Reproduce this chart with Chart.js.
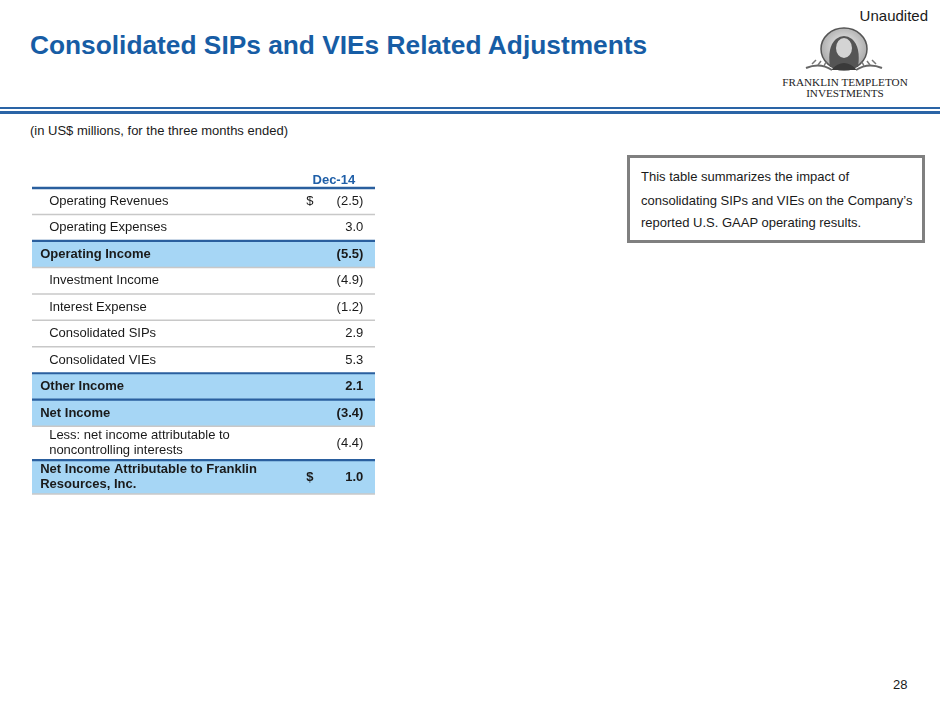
<!DOCTYPE html>
<html>
<head>
<meta charset="utf-8">
<script src="https://cdn.jsdelivr.net/npm/chart.js@4.4.1/dist/chart.umd.min.js"></script>
<style>
  html, body { margin: 0; padding: 0; background: #fff; }
  body { width: 940px; height: 705px; position: relative; overflow: hidden; font-family: "Liberation Sans", Arial, sans-serif; color: #1a1a1a; }
  .abs { position: absolute; }
  #unaudited { right: 12px; top: 7px; font-size: 15px; }
  #title { left: 30px; top: 30px; font-size: 26.3px; font-weight: bold; color: #175DA5; }
  #rule1 { left: 0; top: 107px; width: 940px; height: 1.5px; background: #2A64A6; }
  #rule2 { left: 0; top: 111px; width: 940px; height: 3px; background: #2A64A6; }
  #subtitle { left: 30px; top: 123px; font-size: 13px; }
  #note { left: 627px; top: 155px; width: 292px; height: 82px; border: 3px solid #808080; }
  #note p { margin: 0; position: absolute; left: 11px; font-size: 13px; white-space: nowrap; }
  #page { left: 893px; top: 677px; font-size: 13px; }
  .logoText { left: 770px; width: 150px; text-align: center; font-family: "Liberation Serif", "DejaVu Serif", serif; font-size: 11.2px; line-height: 10px; color: #222; }
  #tableWrap { left: 32px; top: 160px; width: 343px; height: 340px; }
</style>
</head>
<body>
<div id="unaudited" class="abs">Unaudited</div>
<div id="title" class="abs">Consolidated SIPs and VIEs Related Adjustments</div>

<svg class="abs" style="left:796px;top:27px" width="96" height="46" viewBox="0 0 96 46">
  <defs>
    <radialGradient id="bg" cx="50%" cy="45%" r="60%">
      <stop offset="0%" stop-color="#f4f4f4"/>
      <stop offset="100%" stop-color="#a0a0a0"/>
    </radialGradient>
  </defs>
  <ellipse cx="48" cy="22" rx="23" ry="21" fill="url(#bg)" stroke="#555" stroke-width="1.5"/>
  <path d="M34 40 Q31 20 40 12 Q48 6 56 12 Q65 20 62 40 Z" fill="#555"/>
  <ellipse cx="48" cy="21" rx="8" ry="10" fill="#d4d4d4"/>
  <path d="M35 43 Q48 29 61 43 Z" fill="#3a3a3a"/>
  <path d="M10 41 Q24 35 36 43 M86 41 Q72 35 60 43" stroke="#666" stroke-width="2" fill="none"/>
  <path d="M16 37 L20 33 M22 38 L25 34 M28 39 L30 35 M80 37 L76 33 M74 38 L71 34 M68 39 L66 35" stroke="#777" stroke-width="1.5"/>
</svg>
<div class="abs logoText" style="top:77px">FRANKLIN TEMPLETON</div>
<div class="abs logoText" style="top:88px">INVESTMENTS</div>

<div id="rule1" class="abs"></div>
<div id="rule2" class="abs"></div>
<div id="subtitle" class="abs">(in US$ millions, for the three months ended)</div>

<div id="tableWrap" class="abs"><canvas id="tableChart" width="343" height="340"></canvas></div>

<div id="note" class="abs">
  <p style="top:11px">This table summarizes the impact of</p>
  <p style="top:35px">consolidating SIPs and VIEs on the Company’s</p>
  <p style="top:57px">reported U.S. GAAP operating results.</p>
</div>
<div id="page" class="abs">28</div>

<script>
// datos de la tabla
const columnLabel = 'Dec-14';
const rowLabels = [
  ['Operating Revenues'],
  ['Operating Expenses'],
  ['Operating Income'],
  ['Investment Income'],
  ['Interest Expense'],
  ['Consolidated SIPs'],
  ['Consolidated VIEs'],
  ['Other Income'],
  ['Net Income'],
  ['Less: net income attributable to', 'noncontrolling interests'],
  ['Net Income Attributable to Franklin', 'Resources, Inc.']
];
const dec14Values = [-2.5, 3.0, -5.5, -4.9, -1.2, 2.9, 5.3, 2.1, -3.4, -4.4, 1.0];
const totalRows = [false, false, true, false, false, false, false, true, true, false, true];
const dollarRows = [true, false, false, false, false, false, false, false, false, false, true];

// alturas en "filas": cabecera, filas de una o dos lineas
const headerUnits = 1.06;
const rowUnits = rowLabels.map(l => l.length > 1 ? 1.28 : 1);
const totalUnits = headerUnits + rowUnits.reduce((a, b) => a + b, 0) + 0.23;

function fmt(v) {
  const s = Math.abs(v).toFixed(1);
  return v < 0 ? '(' + s + ')' : s;
}

const tablePlugin = {
  id: 'tablePlugin',
  afterDraw(chart) {
    const { ctx, scales: { x, y } } = chart;
    const left = x.getPixelForValue(0), right = x.getPixelForValue(100);
    ctx.save();

    // cabecera
    ctx.font = 'bold 13px "Liberation Sans", Arial, sans-serif';
    ctx.fillStyle = '#1F5FA8';
    ctx.textAlign = 'center';
    ctx.textBaseline = 'middle';
    ctx.fillText(columnLabel, x.getPixelForValue(88), y.getPixelForValue(headerUnits) - 8);

    let start = headerUnits;
    const bounds = rowUnits.map(u => { const b = [start, start + u]; start += u; return b; });

    // fondos
    bounds.forEach(([s, e], i) => {
      if (!totalRows[i]) return;
      const top = y.getPixelForValue(s), bot = y.getPixelForValue(e);
      ctx.fillStyle = '#A6D6F5';
      ctx.fillRect(left, top, right - left, bot - top);
    });

    // lineas separadoras
    bounds.forEach(([s, e], i) => {
      const bot = y.getPixelForValue(e);
      const nextTotal = totalRows[i + 1];
      ctx.beginPath();
      ctx.moveTo(left, bot);
      ctx.lineTo(right, bot);
      ctx.strokeStyle = nextTotal ? '#2A5F9E' : '#C8C8C8';
      ctx.lineWidth = nextTotal ? 2.2 : 1.5;
      ctx.stroke();
    });
    ctx.beginPath();
    ctx.moveTo(left, y.getPixelForValue(headerUnits));
    ctx.lineTo(right, y.getPixelForValue(headerUnits));
    ctx.strokeStyle = '#2A5F9E';
    ctx.lineWidth = 2.5;
    ctx.stroke();

    // textos
    bounds.forEach(([s, e], i) => {
      const mid = (y.getPixelForValue(s) + y.getPixelForValue(e)) / 2;
      const bold = totalRows[i];
      ctx.font = (bold ? 'bold ' : '') + '13px "Liberation Sans", Arial, sans-serif';
      ctx.fillStyle = '#1a1a1a';
      ctx.textBaseline = 'middle';
      ctx.textAlign = 'left';
      const lines = rowLabels[i];
      const lx = x.getPixelForValue(bold ? 2.4 : 5);
      lines.forEach((t, k) => {
        ctx.fillText(t, lx, mid + (k - (lines.length - 1) / 2) * 15);
      });
      ctx.textAlign = 'right';
      ctx.fillText(fmt(dec14Values[i]), x.getPixelForValue(96.6), mid);
      if (dollarRows[i]) {
        ctx.textAlign = 'center';
        ctx.fillText('$', x.getPixelForValue(81), mid);
      }
    });
    ctx.restore();
  }
};

new Chart(document.getElementById('tableChart'), {
  type: 'scatter',
  data: { datasets: [] },
  options: {
    responsive: false,
    animation: false,
    layout: { padding: 0 },
    plugins: { legend: { display: false }, tooltip: { enabled: false } },
    scales: {
      x: { type: 'linear', min: 0, max: 100, display: false },
      y: { type: 'linear', min: 0, max: totalUnits, reverse: true, display: false }
    }
  },
  plugins: [tablePlugin]
});
</script>
</body>
</html>
